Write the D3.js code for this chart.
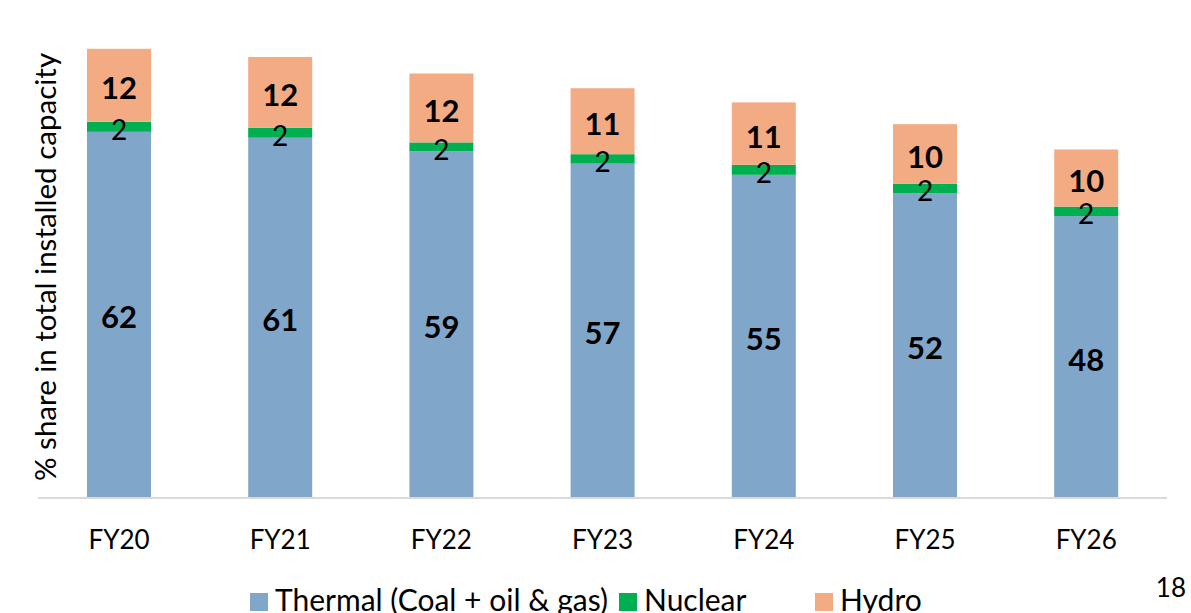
<!DOCTYPE html>
<html><head><meta charset="utf-8">
<script src="https://cdn.jsdelivr.net/npm/d3@7"></script>
<style>
body{margin:0;background:#fff;}
text{font-family:Lato,"Open Sans",sans-serif;}
</style></head>
<body><svg id="c" width="1191" height="613"></svg>
<script>
const categories = ["FY20","FY21","FY22","FY23","FY24","FY25","FY26"];
const thermal = [62, 61, 58.7, 56.6, 54.7, 51.6, 47.7];
const nuclear = [1.7, 1.7, 1.5, 1.6, 1.7, 1.6, 1.6];
const hydro = [12.4, 12.0, 11.7, 11.2, 10.6, 10.1, 9.7];
const seriesNames = ["Thermal (Coal + oil & gas)", "Nuclear", "Hydro"];
const colors = ["#80a6c9", "#00b050", "#f3ab84"];

const svg = d3.select("#c");
const base = 497;
const x = d3.scaleBand().domain(categories).range([38.4, 1166.8]).paddingInner(0.603).paddingOuter(0.3015);
const y = d3.scaleLinear().domain([0, 80]).range([base, base - 80*5.89]);

const rows = categories.map((c,i)=>({cat:c, thermal:thermal[i], nuclear:nuclear[i], hydro:hydro[i]}));
const stack = d3.stack().keys(["thermal","nuclear","hydro"])(rows);

const g = svg.append("g");
stack.forEach((layer, li)=>{
  g.selectAll(null).data(layer).enter().append("rect")
    .attr("x", d=>x(d.data.cat))
    .attr("width", x.bandwidth())
    .attr("y", d=>y(d[1]))
    .attr("height", d=>y(d[0])-y(d[1]))
    .attr("fill", colors[li]);
});

// baseline
svg.append("line").attr("x1",38).attr("x2",1167).attr("y1",base+1).attr("y2",base+1)
  .attr("stroke","#d9d9d9").attr("stroke-width",2);

// labels
stack.forEach((layer, li)=>{
  g.selectAll(null).data(layer).enter().append("text")
    .attr("x", d=>x(d.data.cat)+x.bandwidth()/2)
    .attr("y", d=>(y(d[0])+y(d[1]))/2 + 2)
    .attr("text-anchor","middle")
    .attr("dominant-baseline","central")
    .attr("font-size", li===1?28:31)
    .attr("font-weight", li===1?"normal":"bold")
    .attr("fill","#000")
    .text(d=>Math.round(d[1]-d[0]));
});

// x axis labels
svg.selectAll(null).data(categories).enter().append("text")
  .attr("x", d=>x(d)+x.bandwidth()/2)
  .attr("y", 549)
  .attr("text-anchor","middle")
  .attr("font-size",26)
  .attr("fill","#000")
  .text(d=>d);

// y title
svg.append("text")
  .attr("transform","translate(56,267) rotate(-90)")
  .attr("text-anchor","middle")
  .attr("font-size",29.5)
  .attr("fill","#000")
  .text("% share in total installed capacity");

// legend
const legX = [250, 619, 815];
seriesNames.forEach((n,i)=>{
  svg.append("rect").attr("x",legX[i]).attr("y",593).attr("width",18).attr("height",18).attr("fill",colors[i]);
  svg.append("text").attr("x",legX[i]+25).attr("y",611).attr("font-size",30).attr("fill","#000").text(n);
});

svg.append("text").attr("x",1186).attr("y",597).attr("text-anchor","end").attr("font-size",26).attr("fill","#000").text("18");
</script></body></html>
